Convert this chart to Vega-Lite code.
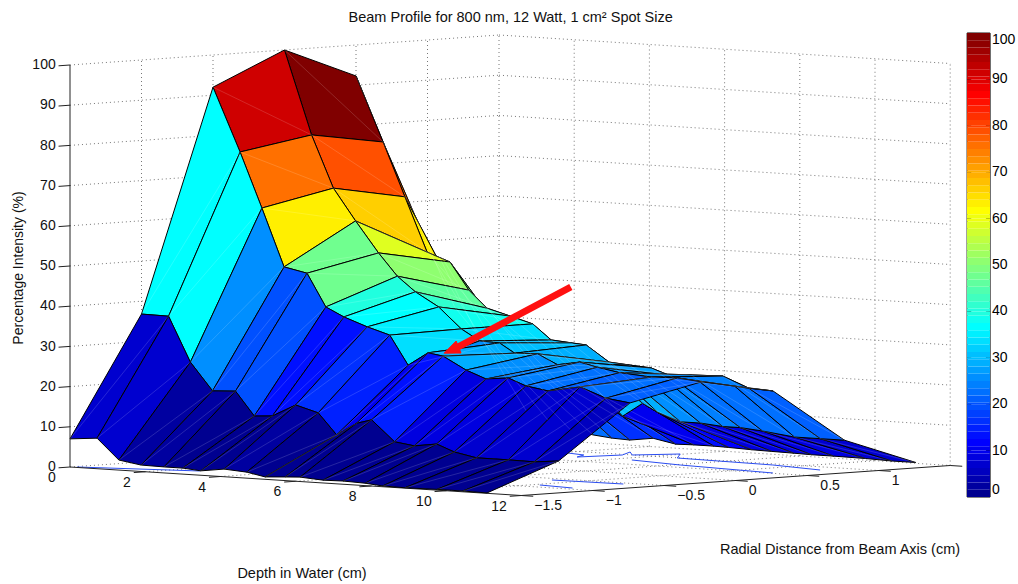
{"$schema":"https://vega.github.io/schema/vega-lite/v6.json","autosize":"none","padding":0,"width":1018,"height":584,"background":"white","config":{"view":{"stroke":null},"text":{"font":"Liberation Sans"}},
"datasets":{
"nodes":[
{"i":0,"j":6,"d":0,"r":1.5,"z":8},{"i":1,"j":6,"d":0.72,"r":1.5,"z":7},{"i":2,"j":6,"d":1.3,"r":1.5,"z":5},{"i":3,"j":6,"d":1.89,"r":1.5,"z":3},{"i":4,"j":6,"d":2.5,"r":1.5,"z":2},{"i":5,"j":6,"d":3,"r":1.5,"z":1.5},{"i":6,"j":6,"d":3.48,"r":1.5,"z":1.3},{"i":7,"j":6,"d":4.1,"r":1.5,"z":2.1},{"i":8,"j":6,"d":4.7,"r":1.5,"z":1},{"i":9,"j":6,"d":5.19,"r":1.5,"z":1.1},{"i":10,"j":6,"d":5.72,"r":1.5,"z":1.1},{"i":11,"j":6,"d":6.12,"r":1.5,"z":1},{"i":12,"j":6,"d":6.73,"r":1.5,"z":0.8},{"i":13,"j":6,"d":7.26,"r":1.5,"z":0.7},{"i":14,"j":6,"d":7.85,"r":1.5,"z":0.6},{"i":15,"j":6,"d":8.32,"r":1.5,"z":0.5},{"i":16,"j":6,"d":8.91,"r":1.5,"z":0.5},{"i":17,"j":6,"d":9.76,"r":1.5,"z":0.4},{"i":18,"j":6,"d":10.45,"r":1.5,"z":0.2},{"i":19,"j":6,"d":11.09,"r":1.5,"z":0.2},
{"i":0,"j":5,"d":0,"r":1,"z":47.8},{"i":1,"j":5,"d":0.72,"r":1,"z":34},{"i":2,"j":5,"d":1.3,"r":1,"z":28},{"i":3,"j":5,"d":1.89,"r":1,"z":24},{"i":4,"j":5,"d":2.5,"r":1,"z":22},{"i":5,"j":5,"d":3,"r":1,"z":19},{"i":6,"j":5,"d":3.48,"r":1,"z":17},{"i":7,"j":5,"d":4.1,"r":1,"z":16},{"i":8,"j":5,"d":4.7,"r":1,"z":14},{"i":9,"j":5,"d":5.19,"r":1,"z":9.5},{"i":10,"j":5,"d":5.72,"r":1,"z":13},{"i":11,"j":5,"d":6.12,"r":1,"z":11},{"i":12,"j":5,"d":6.73,"r":1,"z":9},{"i":13,"j":5,"d":7.26,"r":1,"z":9},{"i":14,"j":5,"d":7.85,"r":1,"z":8.5},{"i":15,"j":5,"d":8.32,"r":1,"z":8.5},{"i":16,"j":5,"d":8.91,"r":1,"z":8},{"i":17,"j":5,"d":9.76,"r":1,"z":7},{"i":18,"j":5,"d":10.45,"r":1,"z":7},{"i":19,"j":5,"d":11.09,"r":1,"z":7},
{"i":0,"j":4,"d":0,"r":0.5,"z":92.3},{"i":1,"j":4,"d":0.72,"r":0.5,"z":76.3},{"i":2,"j":4,"d":1.3,"r":0.5,"z":63},{"i":3,"j":4,"d":1.89,"r":0.5,"z":49.6},{"i":4,"j":4,"d":2.5,"r":0.5,"z":47.5},{"i":5,"j":4,"d":3,"r":0.5,"z":40.8},{"i":6,"j":4,"d":3.48,"r":0.5,"z":36.6},{"i":7,"j":4,"d":4.1,"r":0.5,"z":35},{"i":8,"j":4,"d":4.7,"r":0.5,"z":33.4},{"i":9,"j":4,"d":5.19,"r":0.5,"z":29.7},{"i":10,"j":4,"d":5.72,"r":0.5,"z":29.3},{"i":11,"j":4,"d":6.12,"r":0.5,"z":29},{"i":12,"j":4,"d":6.73,"r":0.5,"z":25.1},{"i":13,"j":4,"d":7.26,"r":0.5,"z":24.7},{"i":14,"j":4,"d":7.85,"r":0.5,"z":24.3},{"i":15,"j":4,"d":8.32,"r":0.5,"z":22.8},{"i":16,"j":4,"d":8.91,"r":0.5,"z":23.2},{"i":17,"j":4,"d":9.76,"r":0.5,"z":23.4},{"i":18,"j":4,"d":10.45,"r":0.5,"z":20.8},{"i":19,"j":4,"d":11.09,"r":0.5,"z":20.5},
{"i":0,"j":3,"d":0,"r":0,"z":100},{"i":1,"j":3,"d":0.72,"r":0,"z":79.3},{"i":2,"j":3,"d":1.3,"r":0,"z":66.4},{"i":3,"j":3,"d":1.89,"r":0,"z":58.6},{"i":4,"j":3,"d":2.5,"r":0,"z":51},{"i":5,"j":3,"d":3,"r":0,"z":45.5},{"i":6,"j":3,"d":3.48,"r":0,"z":41.9},{"i":7,"j":3,"d":4.1,"r":0,"z":38.5},{"i":8,"j":3,"d":4.7,"r":0,"z":33.4},{"i":9,"j":3,"d":5.19,"r":0,"z":30.7},{"i":10,"j":3,"d":5.72,"r":0,"z":30.5},{"i":11,"j":3,"d":6.12,"r":0,"z":28.2},{"i":12,"j":3,"d":6.73,"r":0,"z":28.4},{"i":13,"j":3,"d":7.26,"r":0,"z":26},{"i":14,"j":3,"d":7.85,"r":0,"z":27},{"i":15,"j":3,"d":8.32,"r":0,"z":26},{"i":16,"j":3,"d":8.91,"r":0,"z":25},{"i":17,"j":3,"d":9.76,"r":0,"z":24.4},{"i":18,"j":3,"d":10.45,"r":0,"z":24.6},{"i":19,"j":3,"d":11.09,"r":0,"z":24},
{"i":0,"j":2,"d":0,"r":-0.5,"z":92},{"i":1,"j":2,"d":0.72,"r":-0.5,"z":76.3},{"i":2,"j":2,"d":1.3,"r":-0.5,"z":62.7},{"i":3,"j":2,"d":1.89,"r":-0.5,"z":48.4},{"i":4,"j":2,"d":2.5,"r":-0.5,"z":47.2},{"i":5,"j":2,"d":3,"r":-0.5,"z":39.1},{"i":6,"j":2,"d":3.48,"r":-0.5,"z":36.9},{"i":7,"j":2,"d":4.1,"r":-0.5,"z":34.8},{"i":8,"j":2,"d":4.7,"r":-0.5,"z":33.1},{"i":9,"j":2,"d":5.19,"r":-0.5,"z":25.9},{"i":10,"j":2,"d":5.72,"r":-0.5,"z":29.3},{"i":11,"j":2,"d":6.12,"r":-0.5,"z":28.7},{"i":12,"j":2,"d":6.73,"r":-0.5,"z":25.6},{"i":13,"j":2,"d":7.26,"r":-0.5,"z":23.7},{"i":14,"j":2,"d":7.85,"r":-0.5,"z":24.3},{"i":15,"j":2,"d":8.32,"r":-0.5,"z":22.6},{"i":16,"j":2,"d":8.91,"r":-0.5,"z":21.7},{"i":17,"j":2,"d":9.76,"r":-0.5,"z":23.2},{"i":18,"j":2,"d":10.45,"r":-0.5,"z":20.8},{"i":19,"j":2,"d":11.09,"r":-0.5,"z":20},
{"i":0,"j":1,"d":0,"r":-1,"z":36.8},{"i":1,"j":1,"d":0.72,"r":-1,"z":36.7},{"i":2,"j":1,"d":1.3,"r":-1,"z":25.6},{"i":3,"j":1,"d":1.89,"r":-1,"z":18.8},{"i":4,"j":1,"d":2.5,"r":-1,"z":19.1},{"i":5,"j":1,"d":3,"r":-1,"z":13.2},{"i":6,"j":1,"d":3.48,"r":-1,"z":13.5},{"i":7,"j":1,"d":4.1,"r":-1,"z":16.6},{"i":8,"j":1,"d":4.7,"r":-1,"z":15},{"i":9,"j":1,"d":5.19,"r":-1,"z":9.8},{"i":10,"j":1,"d":5.72,"r":-1,"z":13},{"i":11,"j":1,"d":6.12,"r":-1,"z":14.1},{"i":12,"j":1,"d":6.73,"r":-1,"z":9},{"i":13,"j":1,"d":7.26,"r":-1,"z":8.3},{"i":14,"j":1,"d":7.85,"r":-1,"z":9.1},{"i":15,"j":1,"d":8.32,"r":-1,"z":7.4},{"i":16,"j":1,"d":8.91,"r":-1,"z":6.3},{"i":17,"j":1,"d":9.76,"r":-1,"z":6.3},{"i":18,"j":1,"d":10.45,"r":-1,"z":6.2},{"i":19,"j":1,"d":11.09,"r":-1,"z":6.8},
{"i":0,"j":0,"d":0,"r":-1.5,"z":7},{"i":1,"j":0,"d":0.72,"r":-1.5,"z":7.6},{"i":2,"j":0,"d":1.3,"r":-1.5,"z":2.5},{"i":3,"j":0,"d":1.89,"r":-1.5,"z":1.6},{"i":4,"j":0,"d":2.5,"r":-1.5,"z":1.5},{"i":5,"j":0,"d":3,"r":-1.5,"z":1.5},{"i":6,"j":0,"d":3.48,"r":-1.5,"z":1.1},{"i":7,"j":0,"d":4.1,"r":-1.5,"z":1.9},{"i":8,"j":0,"d":4.7,"r":-1.5,"z":1.5},{"i":9,"j":0,"d":5.19,"r":-1.5,"z":0.6},{"i":10,"j":0,"d":5.72,"r":-1.5,"z":0.9},{"i":11,"j":0,"d":6.12,"r":-1.5,"z":1.1},{"i":12,"j":0,"d":6.73,"r":-1.5,"z":0.7},{"i":13,"j":0,"d":7.26,"r":-1.5,"z":0.8},{"i":14,"j":0,"d":7.85,"r":-1.5,"z":0.6},{"i":15,"j":0,"d":8.32,"r":-1.5,"z":0.2},{"i":16,"j":0,"d":8.91,"r":-1.5,"z":0.1},{"i":17,"j":0,"d":9.76,"r":-1.5,"z":0.2},{"i":18,"j":0,"d":10.45,"r":-1.5,"z":0.2},{"i":19,"j":0,"d":11.09,"r":-1.5,"z":0.1}
],
"grid":[
{"g":1,"d":[0,0],"r":[-1.5,1.5],"z":[0,0]},{"g":2,"d":[0,0],"r":[-1.5,1.5],"z":[10,10]},{"g":3,"d":[0,0],"r":[-1.5,1.5],"z":[20,20]},{"g":4,"d":[0,0],"r":[-1.5,1.5],"z":[30,30]},{"g":5,"d":[0,0],"r":[-1.5,1.5],"z":[40,40]},{"g":6,"d":[0,0],"r":[-1.5,1.5],"z":[50,50]},{"g":7,"d":[0,0],"r":[-1.5,1.5],"z":[60,60]},{"g":8,"d":[0,0],"r":[-1.5,1.5],"z":[70,70]},{"g":9,"d":[0,0],"r":[-1.5,1.5],"z":[80,80]},{"g":10,"d":[0,0],"r":[-1.5,1.5],"z":[90,90]},{"g":11,"d":[0,0],"r":[-1.5,1.5],"z":[100,100]},
{"g":12,"d":[0,12],"r":[1.5,1.5],"z":[0,0]},{"g":13,"d":[0,12],"r":[1.5,1.5],"z":[10,10]},{"g":14,"d":[0,12],"r":[1.5,1.5],"z":[20,20]},{"g":15,"d":[0,12],"r":[1.5,1.5],"z":[30,30]},{"g":16,"d":[0,12],"r":[1.5,1.5],"z":[40,40]},{"g":17,"d":[0,12],"r":[1.5,1.5],"z":[50,50]},{"g":18,"d":[0,12],"r":[1.5,1.5],"z":[60,60]},{"g":19,"d":[0,12],"r":[1.5,1.5],"z":[70,70]},{"g":20,"d":[0,12],"r":[1.5,1.5],"z":[80,80]},{"g":21,"d":[0,12],"r":[1.5,1.5],"z":[90,90]},{"g":22,"d":[0,12],"r":[1.5,1.5],"z":[100,100]},
{"g":23,"d":[0,0],"r":[-1,-1],"z":[0,100]},{"g":24,"d":[0,0],"r":[-0.5,-0.5],"z":[0,100]},{"g":25,"d":[0,0],"r":[0,0],"z":[0,100]},{"g":26,"d":[0,0],"r":[0.5,0.5],"z":[0,100]},{"g":27,"d":[0,0],"r":[1,1],"z":[0,100]},{"g":28,"d":[0,0],"r":[1.5,1.5],"z":[0,100]},
{"g":29,"d":[2,2],"r":[1.5,1.5],"z":[0,100]},{"g":30,"d":[4,4],"r":[1.5,1.5],"z":[0,100]},{"g":31,"d":[6,6],"r":[1.5,1.5],"z":[0,100]},{"g":32,"d":[8,8],"r":[1.5,1.5],"z":[0,100]},{"g":33,"d":[10,10],"r":[1.5,1.5],"z":[0,100]},{"g":34,"d":[12,12],"r":[1.5,1.5],"z":[0,100]},
{"g":35,"d":[0,12],"r":[-1,-1],"z":[0,0]},{"g":36,"d":[0,12],"r":[-0.5,-0.5],"z":[0,0]},{"g":37,"d":[0,12],"r":[0,0],"z":[0,0]},{"g":38,"d":[0,12],"r":[0.5,0.5],"z":[0,0]},{"g":39,"d":[0,12],"r":[1,1],"z":[0,0]},
{"g":40,"d":[2,2],"r":[-1.5,1.5],"z":[0,0]},{"g":41,"d":[4,4],"r":[-1.5,1.5],"z":[0,0]},{"g":42,"d":[6,6],"r":[-1.5,1.5],"z":[0,0]},{"g":43,"d":[8,8],"r":[-1.5,1.5],"z":[0,0]},{"g":44,"d":[10,10],"r":[-1.5,1.5],"z":[0,0]}
],
"axes":[
{"g":1,"d":[0,0],"r":[-1.5,-1.5],"z":[0,100]},{"g":2,"d":[0,12],"r":[-1.5,-1.5],"z":[0,0]},{"g":3,"d":[12,12],"r":[-1.5,1.5],"z":[0,0]},
{"g":4,"d":[0,0],"r":[-1.58,-1.5],"z":[0,0]},{"g":5,"d":[0,0],"r":[-1.58,-1.5],"z":[10,10]},{"g":6,"d":[0,0],"r":[-1.58,-1.5],"z":[20,20]},{"g":7,"d":[0,0],"r":[-1.58,-1.5],"z":[30,30]},{"g":8,"d":[0,0],"r":[-1.58,-1.5],"z":[40,40]},{"g":9,"d":[0,0],"r":[-1.58,-1.5],"z":[50,50]},{"g":10,"d":[0,0],"r":[-1.58,-1.5],"z":[60,60]},{"g":11,"d":[0,0],"r":[-1.58,-1.5],"z":[70,70]},{"g":12,"d":[0,0],"r":[-1.58,-1.5],"z":[80,80]},{"g":13,"d":[0,0],"r":[-1.58,-1.5],"z":[90,90]},{"g":14,"d":[0,0],"r":[-1.58,-1.5],"z":[100,100]},
{"g":15,"d":[2,2],"r":[-1.58,-1.5],"z":[0,0]},{"g":16,"d":[4,4],"r":[-1.58,-1.5],"z":[0,0]},{"g":17,"d":[6,6],"r":[-1.58,-1.5],"z":[0,0]},{"g":18,"d":[8,8],"r":[-1.58,-1.5],"z":[0,0]},{"g":19,"d":[10,10],"r":[-1.58,-1.5],"z":[0,0]},{"g":20,"d":[12,12],"r":[-1.58,-1.5],"z":[0,0]},
{"g":21,"d":[12,12.32],"r":[-1,-1],"z":[0,0]},{"g":22,"d":[12,12.32],"r":[-0.5,-0.5],"z":[0,0]},{"g":23,"d":[12,12.32],"r":[0,0],"z":[0,0]},{"g":24,"d":[12,12.32],"r":[0.5,0.5],"z":[0,0]},{"g":25,"d":[12,12.32],"r":[1,1],"z":[0,0]},{"g":26,"d":[12,12.32],"r":[1.5,1.5],"z":[0,0]},{"g":27,"d":[12,12.32],"r":[-1.5,-1.5],"z":[0,0]}
],
"barframe":[
{"g":1,"d":[23.86,24.47],"z":[122.06,122.4]},{"g":2,"d":[23.86,24.47],"z":[6.64,6.99]},{"g":3,"d":[23.86,23.86],"z":[6.64,122.06]},{"g":4,"d":[24.47,24.47],"z":[6.99,122.4]},
{"g":5,"d":[23.86,23.97],"z":[18.18,18.18]},{"g":6,"d":[23.86,23.97],"z":[29.73,29.73]},{"g":7,"d":[23.86,23.97],"z":[41.27,41.27]},{"g":8,"d":[23.86,23.97],"z":[52.81,52.81]},{"g":9,"d":[23.86,23.97],"z":[64.35,64.35]},{"g":10,"d":[23.86,23.97],"z":[75.9,75.9]},{"g":11,"d":[23.86,23.97],"z":[87.44,87.44]},{"g":12,"d":[23.86,23.97],"z":[98.98,98.98]},{"g":13,"d":[23.86,23.97],"z":[110.5,110.5]},
{"g":14,"d":[24.36,24.47],"z":[18.53,18.53]},{"g":15,"d":[24.36,24.47],"z":[30.07,30.07]},{"g":16,"d":[24.36,24.47],"z":[41.6,41.6]},{"g":17,"d":[24.36,24.47],"z":[53.16,53.16]},{"g":18,"d":[24.36,24.47],"z":[64.7,64.7]},{"g":19,"d":[24.36,24.47],"z":[76.24,76.24]},{"g":20,"d":[24.36,24.47],"z":[87.78,87.78]},{"g":21,"d":[24.36,24.47],"z":[99.33,99.33]},{"g":22,"d":[24.36,24.47],"z":[110.87,110.87]}
],
"contours":[
{"g":1,"v":0,"d":4.16,"r":0.888,"z":0},{"g":1,"v":1,"d":4.78,"r":0.836,"z":0},{"g":1,"v":2,"d":5.09,"r":0.708,"z":0},{"g":1,"v":3,"d":5.32,"r":0.963,"z":0},{"g":1,"v":4,"d":4.83,"r":1.147,"z":0},{"g":1,"v":5,"d":5.46,"r":0.996,"z":0},{"g":1,"v":6,"d":5.93,"r":1.208,"z":0},{"g":1,"v":7,"d":6.69,"r":0.988,"z":0},{"g":1,"v":8,"d":9.42,"r":0.938,"z":0},{"g":1,"v":9,"d":11.08,"r":0.832,"z":0},
{"g":2,"v":0,"d":6.45,"r":0.733,"z":0},{"g":2,"v":1,"d":8.13,"r":0.63,"z":0},{"g":2,"v":2,"d":11.02,"r":0.518,"z":0},
{"g":3,"v":0,"d":9.33,"r":-0.583,"z":0},{"g":3,"v":1,"d":11.13,"r":-0.557,"z":0},
{"g":4,"v":0,"d":10.16,"r":-0.886,"z":0},{"g":4,"v":1,"d":11.22,"r":-0.936,"z":0},
{"g":5,"v":0,"d":0.1,"r":-1.477,"z":0},{"g":5,"v":1,"d":2.61,"r":-1.279,"z":0}
],
"arrowShaft":[{"v":0,"d":13.32,"r":-1.5,"z":52.65},{"v":1,"d":10.32,"r":-1.5,"z":35.95}],
"arrowHead":[{"v":0,"d":9.95,"r":-1.5,"z":34.2},{"v":1,"d":10.27,"r":-1.5,"z":37.4},{"v":2,"d":10.4,"r":-1.5,"z":34.5},{"v":3,"d":9.95,"r":-1.5,"z":34.2}],
"labelsRight":[
{"t":"0","d":0,"r":-1.6,"z":0.2},{"t":"10","d":0,"r":-1.6,"z":10.2},{"t":"20","d":0,"r":-1.6,"z":20.2},{"t":"30","d":0,"r":-1.6,"z":30.2},{"t":"40","d":0,"r":-1.6,"z":40.2},{"t":"50","d":0,"r":-1.6,"z":50.2},{"t":"60","d":0,"r":-1.6,"z":60.2},{"t":"70","d":0,"r":-1.6,"z":70.2},{"t":"80","d":0,"r":-1.6,"z":80.2},{"t":"90","d":0,"r":-1.6,"z":90.2},{"t":"100","d":0,"r":-1.6,"z":100.2},
{"t":"0","d":0,"r":-1.6,"z":-2.5},{"t":"2","d":2,"r":-1.6,"z":-2.5},{"t":"4","d":4,"r":-1.6,"z":-2.5},{"t":"6","d":6,"r":-1.6,"z":-2.5},{"t":"8","d":8,"r":-1.6,"z":-2.5},{"t":"10","d":10,"r":-1.6,"z":-2.5},{"t":"12","d":12,"r":-1.6,"z":-2.5}
],
"labelsLeft":[
{"t":"−1.5","d":12.35,"r":-1.5,"z":-2.5},{"t":"−1","d":12.35,"r":-1,"z":-2.5},{"t":"−0.5","d":12.35,"r":-0.5,"z":-2.5},{"t":"0","d":12.35,"r":0,"z":-2.5},{"t":"0.5","d":12.35,"r":0.5,"z":-2.5},{"t":"1","d":12.35,"r":1,"z":-2.5}
],
"titles":[
{"t":"Beam Profile for 800 nm, 12 Watt, 1 cm² Spot Size","d":11.72,"r":-1.5,"z":118.6},
{"t":"Depth in Water (cm)","d":6.17,"r":-1.5,"z":-23},
{"t":"Radial Distance from Beam Axis (cm)","d":20.48,"r":-1.5,"z":-8.5}
],
"ztitle":[{"t":"Percentage Intensity (%)","d":-1.36,"r":-1.5,"z":48.7}]
},
"encoding":{
"x":{"field":"sx","type":"quantitative","scale":{"domain":[0,1018],"nice":false,"zero":false},"axis":null},
"y":{"field":"sy","type":"quantitative","scale":{"domain":[584,0],"nice":false,"zero":false},"axis":null}
},
"layer":[
{"data":{"name":"grid"},"transform":[{"flatten":["d","r","z"]},{"calculate":"70+37.6*datum.d+143*(datum.r+1.5)","as":"sx"},{"calculate":"467+2.375*datum.d-10*(datum.r+1.5)-4.02*datum.z","as":"sy"}],
"mark":{"type":"line","stroke":"#777777","strokeWidth":1,"strokeDash":[1,3]},"encoding":{"detail":{"field":"g"}}},
{"data":{"name":"contours"},"transform":[{"calculate":"70+37.6*datum.d+143*(datum.r+1.5)","as":"sx"},{"calculate":"467+2.375*datum.d-10*(datum.r+1.5)-4.02*datum.z","as":"sy"}],
"mark":{"type":"line","stroke":"#2a4cf0","strokeWidth":1},"encoding":{"detail":{"field":"g"},"order":{"field":"v"}}},
{"data":{"name":"axes"},"transform":[{"flatten":["d","r","z"]},{"calculate":"70+37.6*datum.d+143*(datum.r+1.5)","as":"sx"},{"calculate":"467+2.375*datum.d-10*(datum.r+1.5)-4.02*datum.z","as":"sy"}],
"mark":{"type":"line","stroke":"#222222","strokeWidth":1},"encoding":{"detail":{"field":"g"}}},
{"data":{"name":"nodes"},"transform":[
{"calculate":"[datum.i,datum.i-1,datum.i-1,datum.i,datum.i]","as":"ci"},
{"calculate":"[datum.j,datum.j,datum.j-1,datum.j-1,datum.j]","as":"cj"},
{"calculate":"[0,1,2,3,4]","as":"v"},
{"flatten":["ci","cj","v"]},
{"filter":"datum.ci>=0&&datum.ci<=18&&datum.cj>=0&&datum.cj<=5"},
{"calculate":"datum.ci*10+datum.cj","as":"cell"},
{"calculate":"datum.v==0?datum.z:null","as":"z0"},
{"joinaggregate":[{"op":"max","field":"z0","as":"intensity"}],"groupby":["cell"]},
{"calculate":"70+37.6*datum.d+143*(datum.r+1.5)","as":"sx"},{"calculate":"467+2.375*datum.d-10*(datum.r+1.5)-4.02*datum.z","as":"sy"}],
"mark":{"type":"line","stroke":"black","strokeWidth":1,"strokeJoin":"round","fillOpacity":1},
"encoding":{"detail":{"field":"cell"},"order":{"field":"v"},
"fill":{"field":"intensity","type":"quantitative","scale":{"type":"quantize","domain":[0,100],"nice":false,"range":["#000090","#0000a0","#0000b0","#0000bf","#0000cf","#0000df","#0000ef","#0000ff","#0010ff","#0020ff","#0030ff","#0040ff","#0050ff","#0060ff","#0070ff","#0080ff","#008fff","#009fff","#00afff","#00bfff","#00cfff","#00dfff","#00efff","#00ffff","#10ffef","#20ffdf","#30ffcf","#40ffbf","#50ffaf","#60ff9f","#70ff8f","#80ff80","#8fff70","#9fff60","#afff50","#bfff40","#cfff30","#dfff20","#efff10","#ffff00","#ffef00","#ffdf00","#ffcf00","#ffbf00","#ffaf00","#ff9f00","#ff8f00","#ff8000","#ff7000","#ff6000","#ff5000","#ff4000","#ff3000","#ff2000","#ff1000","#ff0000","#ef0000","#df0000","#cf0000","#bf0000","#af0000","#9f0000","#8f0000","#800000"]},
"legend":{"orient":"none","legendX":967,"legendY":33,"title":null,"type":"gradient","direction":"vertical","gradientLength":464,"gradientThickness":23,"values":[0,1.57,3.13,4.69,6.25,7.82,9.38,10,10.94,12.5,14.07,15.63,17.19,18.75,20,20.32,21.88,23.44,25,26.57,28.13,29.69,30,31.25,32.82,34.38,35.94,37.5,39.07,40,40.63,42.19,43.75,45.32,46.88,48.44,50,51.57,53.13,54.69,56.25,57.82,59.38,60,60.94,62.5,64.07,65.63,67.19,68.75,70,70.32,71.88,73.44,75,76.57,78.13,79.69,80,81.25,82.82,84.38,85.94,87.5,89.07,90,90.63,92.19,93.75,95.32,96.88,98.44,100],"labelExpr":"datum.value%10==0?datum.value+'':''","labelFontSize":14,"labelFont":"Liberation Sans","labelColor":"black","labelOverlap":false,"labelBaseline":"middle","gradientStrokeWidth":0,"encoding":{"labels":{"update":{"baseline":{"value":"middle"}}}}}}}},
{"data":{"name":"nodes"},"transform":[
{"calculate":"[datum.i,datum.i-1]","as":"ci"},
{"calculate":"[datum.j,datum.j-1]","as":"cj"},
{"flatten":["ci","cj"]},
{"filter":"datum.ci>=0&&datum.ci<=18&&datum.cj>=0&&datum.cj<=5"},
{"calculate":"datum.ci*10+datum.cj","as":"cell"},
{"calculate":"70+37.6*datum.d+143*(datum.r+1.5)","as":"sx"},{"calculate":"467+2.375*datum.d-10*(datum.r+1.5)-4.02*datum.z","as":"sy"}],
"mark":{"type":"line","stroke":"white","strokeWidth":0.6,"strokeOpacity":0.25},"encoding":{"detail":{"field":"cell"}}},
{"data":{"name":"arrowShaft"},"transform":[{"calculate":"70+37.6*datum.d+143*(datum.r+1.5)","as":"sx"},{"calculate":"467+2.375*datum.d-10*(datum.r+1.5)-4.02*datum.z","as":"sy"}],
"mark":{"type":"line","stroke":"#ff1010","strokeWidth":7},"encoding":{"order":{"field":"v"}}},
{"data":{"name":"arrowHead"},"transform":[{"calculate":"70+37.6*datum.d+143*(datum.r+1.5)","as":"sx"},{"calculate":"467+2.375*datum.d-10*(datum.r+1.5)-4.02*datum.z","as":"sy"}],
"mark":{"type":"line","stroke":"#ff1010","strokeWidth":1,"fill":"#ff1010"},"encoding":{"order":{"field":"v"}}},
{"data":{"name":"barframe"},"transform":[{"flatten":["d","z"]},{"calculate":"70+37.6*datum.d","as":"sx"},{"calculate":"467+2.375*datum.d-4.02*datum.z","as":"sy"}],
"mark":{"type":"line","stroke":"black","strokeWidth":1},"encoding":{"detail":{"field":"g"}}},
{"data":{"name":"labelsRight"},"transform":[{"calculate":"70+37.6*datum.d+143*(datum.r+1.5)","as":"sx"},{"calculate":"467+2.375*datum.d-10*(datum.r+1.5)-4.02*datum.z","as":"sy"}],
"mark":{"type":"text","align":"right","baseline":"middle","fontSize":14,"font":"Liberation Sans","color":"#111111"},"encoding":{"text":{"field":"t"}}},
{"data":{"name":"labelsLeft"},"transform":[{"calculate":"70+37.6*datum.d+143*(datum.r+1.5)","as":"sx"},{"calculate":"467+2.375*datum.d-10*(datum.r+1.5)-4.02*datum.z","as":"sy"}],
"mark":{"type":"text","align":"left","baseline":"middle","fontSize":14,"font":"Liberation Sans","color":"#111111"},"encoding":{"text":{"field":"t"}}},
{"data":{"name":"titles"},"transform":[{"calculate":"70+37.6*datum.d+143*(datum.r+1.5)","as":"sx"},{"calculate":"467+2.375*datum.d-10*(datum.r+1.5)-4.02*datum.z","as":"sy"}],
"mark":{"type":"text","align":"center","baseline":"middle","fontSize":14.5,"font":"Liberation Sans","color":"#111111"},"encoding":{"text":{"field":"t"}}},
{"data":{"name":"ztitle"},"transform":[{"calculate":"70+37.6*datum.d+143*(datum.r+1.5)","as":"sx"},{"calculate":"467+2.375*datum.d-10*(datum.r+1.5)-4.02*datum.z","as":"sy"}],
"mark":{"type":"text","align":"center","baseline":"middle","angle":270,"fontSize":14,"font":"Liberation Sans","color":"#111111"},"encoding":{"text":{"field":"t"}}}
]}
